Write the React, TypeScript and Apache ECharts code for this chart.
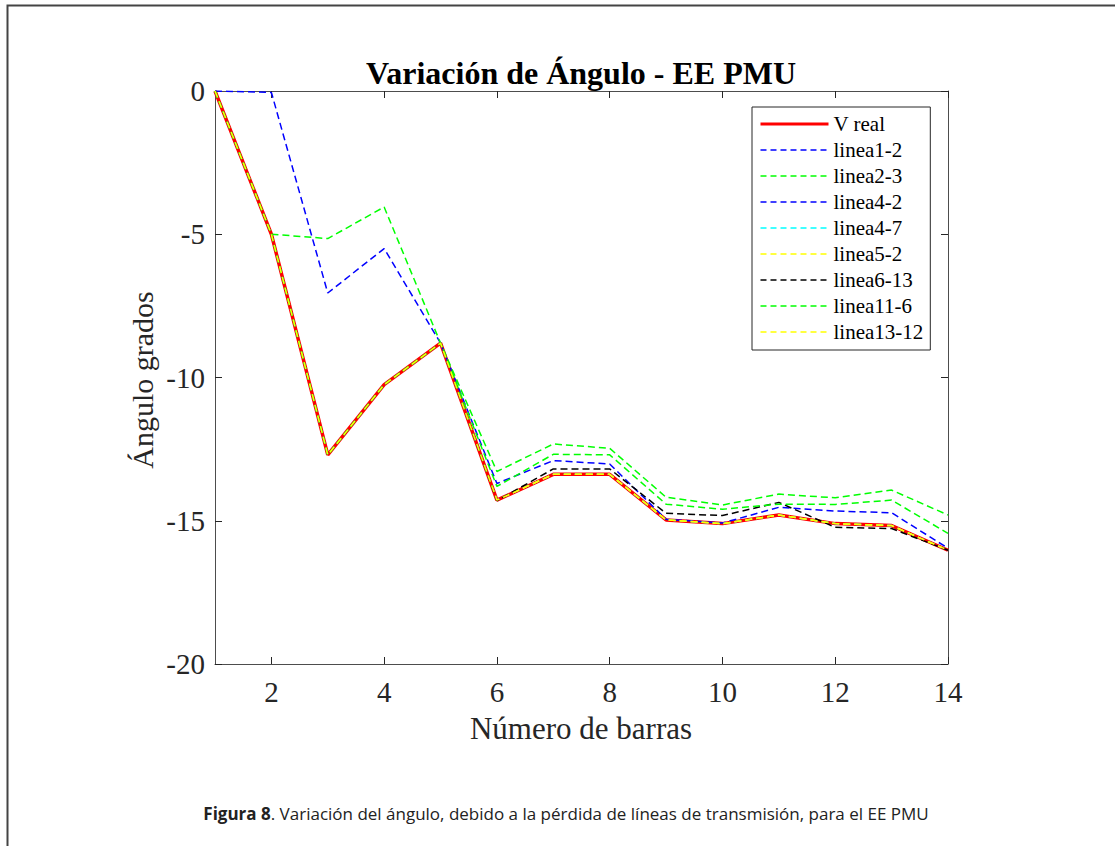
import React, { useEffect, useRef } from "react";
import * as echarts from "echarts";

// Número de barras (x) and tick positions
const barras = [1, 2, 3, 4, 5, 6, 7, 8, 9, 10, 11, 12, 13, 14];
const xTicks = [2, 4, 6, 8, 10, 12, 14];
const yTicks = [0, -5, -10, -15, -20];

// Series values (ángulo, grados)
const vReal = [0, -5.0, -12.7, -10.25, -8.8, -14.28, -13.38, -13.38, -14.97, -15.1, -14.8, -15.1, -15.17, -16.03];
const linea1_2 = [0, -0.05, -7.05, -5.5, -8.8, -13.7, -12.9, -13.02, -14.95, -15.08, -14.53, -14.66, -14.72, -15.96];
const linea2_3 = [0, -5.0, -5.15, -4.05, -8.8, -13.28, -12.32, -12.47, -14.18, -14.45, -14.07, -14.2, -13.93, -14.8];
const linea4_2 = [0, -5.0, -12.7, -10.25, -8.8, -14.28, -13.38, -13.38, -14.97, -15.1, -14.8, -15.1, -15.17, -16.03];
const linea4_7 = [0, -5.0, -12.7, -10.25, -8.8, -14.28, -13.38, -13.38, -14.97, -15.1, -14.8, -15.1, -15.17, -16.03];
const linea5_2 = [0, -5.0, -12.7, -10.25, -8.8, -14.28, -13.38, -13.38, -14.97, -15.1, -14.8, -15.1, -15.17, -16.03];
const linea6_13 = [0, -5.0, -12.7, -10.25, -8.8, -14.3, -13.19, -13.19, -14.74, -14.82, -14.36, -15.23, -15.27, -16.03];
const linea11_6 = [0, -5.0, -12.7, -10.25, -8.8, -13.8, -12.68, -12.7, -14.42, -14.6, -14.42, -14.43, -14.28, -15.44];
const linea13_12 = [0, -5.0, -12.7, -10.25, -8.8, -14.28, -13.38, -13.38, -14.97, -15.1, -14.8, -15.1, -15.17, -16.03];

const seriesNames = ["V real", "linea1-2", "linea2-3", "linea4-2", "linea4-7", "linea5-2", "linea6-13", "linea11-6", "linea13-12"];
const seriesValues = [vReal, linea1_2, linea2_3, linea4_2, linea4_7, linea5_2, linea6_13, linea11_6, linea13_12];
const seriesColors = ["#ff0000", "#0000ff", "#00ff00", "#0000ff", "#00ffff", "#ffff00", "#000000", "#00ff00", "#ffff00"];

const titleText = "Variación de Ángulo - EE PMU";
const xName = "Número de barras";
const yName = "Ángulo grados";
const captionBold = "Figura 8";
const captionRest = ". Variación del ángulo, debido a la pérdida de líneas de transmisión, para el EE PMU";

const SERIF = "'Liberation Serif', 'Times New Roman', serif";
const SANS = "'Open Sans', 'Noto Sans', sans-serif";
const AXIS_COLOR = "#4d4d4d";

export default function App() {
  const ref = useRef<HTMLDivElement>(null);

  useEffect(() => {
    if (!ref.current) return;
    const chart = echarts.init(ref.current, null, { renderer: "svg" });

    const gridPos = { left: 215, top: 91, right: 167, bottom: 182 };

    const baseX = {
      type: "value",
      min: 1,
      max: 14,
      gridIndex: 0,
      splitLine: { show: false },
      axisLine: { show: true, onZero: false, lineStyle: { color: AXIS_COLOR, width: 1 } },
      axisTick: { show: true, inside: true, length: 7, customValues: xTicks, lineStyle: { color: "#262626", width: 1 } },
    };
    const baseY = {
      type: "value",
      min: -20,
      max: 0,
      interval: 5,
      gridIndex: 0,
      splitLine: { show: false },
      axisLine: { show: true, onZero: false, lineStyle: { color: AXIS_COLOR, width: 1 } },
      axisTick: { show: true, inside: true, length: 7, lineStyle: { color: "#262626", width: 1 } },
    };

    const option: any = {
      animation: false,
      backgroundColor: "#ffffff",
      grid: gridPos,
      xAxis: [
        {
          ...baseX,
          position: "bottom",
          axisLabel: {
            customValues: xTicks,
            fontFamily: SERIF,
            fontSize: 29,
            color: "#262626",
            margin: 13,
          },
        },
        { ...baseX, position: "top", axisLabel: { show: false } },
      ],
      yAxis: [
        {
          ...baseY,
          position: "left",
          axisLabel: {
            fontFamily: SERIF,
            fontSize: 29,
            color: "#262626",
            margin: 10,
            formatter: (v: number) => String(v),
          },
        },
        { ...baseY, position: "right", axisLabel: { show: false } },
      ],
      legend: {
        orient: "vertical",
        left: 752,
        top: 107,
        padding: [6, 7, 7, 7],
        itemWidth: 68,
        itemHeight: 14,
        itemGap: 4,
        backgroundColor: "#ffffff",
        borderColor: "#262626",
        borderWidth: 1,
        borderRadius: 0,
        selectedMode: false,
        textStyle: { fontFamily: SERIF, fontSize: 21, color: "#000000", lineHeight: 22 },
        data: seriesNames.map((n, k) => ({
          name: n,
          itemStyle: { opacity: 0, borderWidth: 0 },
          lineStyle: {
            width: k === 0 ? 3 : 1.3,
            type: k === 0 ? "solid" : [6, 4],
            color: seriesColors[k],
            opacity: 1,
          },
        })),
      },
      series: seriesNames.map((name, k) => ({
        name,
        type: "line",
        xAxisIndex: 0,
        yAxisIndex: 0,
        data: barras.map((x, i) => [x, seriesValues[k][i]]),
        symbol: "none",
        showSymbol: false,
        silent: true,
        color: seriesColors[k],
        itemStyle: { color: seriesColors[k] },
        lineStyle: {
          color: seriesColors[k],
          width: k === 0 ? 3.5 : 1.5,
          type: k === 0 ? "solid" : [7, 4],
        },
        emphasis: { disabled: true },
      })),
      graphic: [
        {
          type: "polyline",
          shape: { points: [[7.5, 846], [7.5, 5.5], [1115, 5.5]] },
          style: { stroke: "#444444", lineWidth: 2, fill: "none" },
          silent: true,
        },
        {
          type: "text",
          x: 581,
          y: 73,
          style: {
            text: titleText,
            font: `bold 32px ${SERIF}`,
            fill: "#000000",
            textAlign: "center",
            textVerticalAlign: "middle",
          },
          silent: true,
        },
        {
          type: "text",
          x: 581,
          y: 728,
          style: {
            text: xName,
            font: `31px ${SERIF}`,
            fill: "#262626",
            textAlign: "center",
            textVerticalAlign: "middle",
          },
          silent: true,
        },
        {
          type: "text",
          x: 142,
          y: 380,
          rotation: Math.PI / 2,
          style: {
            text: yName,
            font: `30px ${SERIF}`,
            fill: "#262626",
            textAlign: "center",
            textVerticalAlign: "middle",
          },
          silent: true,
        },
        {
          type: "text",
          x: 566,
          y: 813,
          style: {
            text: `{b|${captionBold}}{r|${captionRest}}`,
            font: `17px ${SANS}`,
            fill: "#222222",
            textAlign: "center",
            textVerticalAlign: "middle",
            rich: {
              b: { fontWeight: "bold", fontFamily: SANS, fontSize: 17, fill: "#222222" },
              r: { fontFamily: SANS, fontSize: 17, fill: "#222222" },
            },
          },
          silent: true,
        },
      ],
    };

    chart.setOption(option);
    return () => chart.dispose();
  }, []);

  return (
    <div
      ref={ref}
      style={{ position: "fixed", left: 0, top: 0, width: 1115, height: 846, background: "#ffffff" }}
    />
  );
}
